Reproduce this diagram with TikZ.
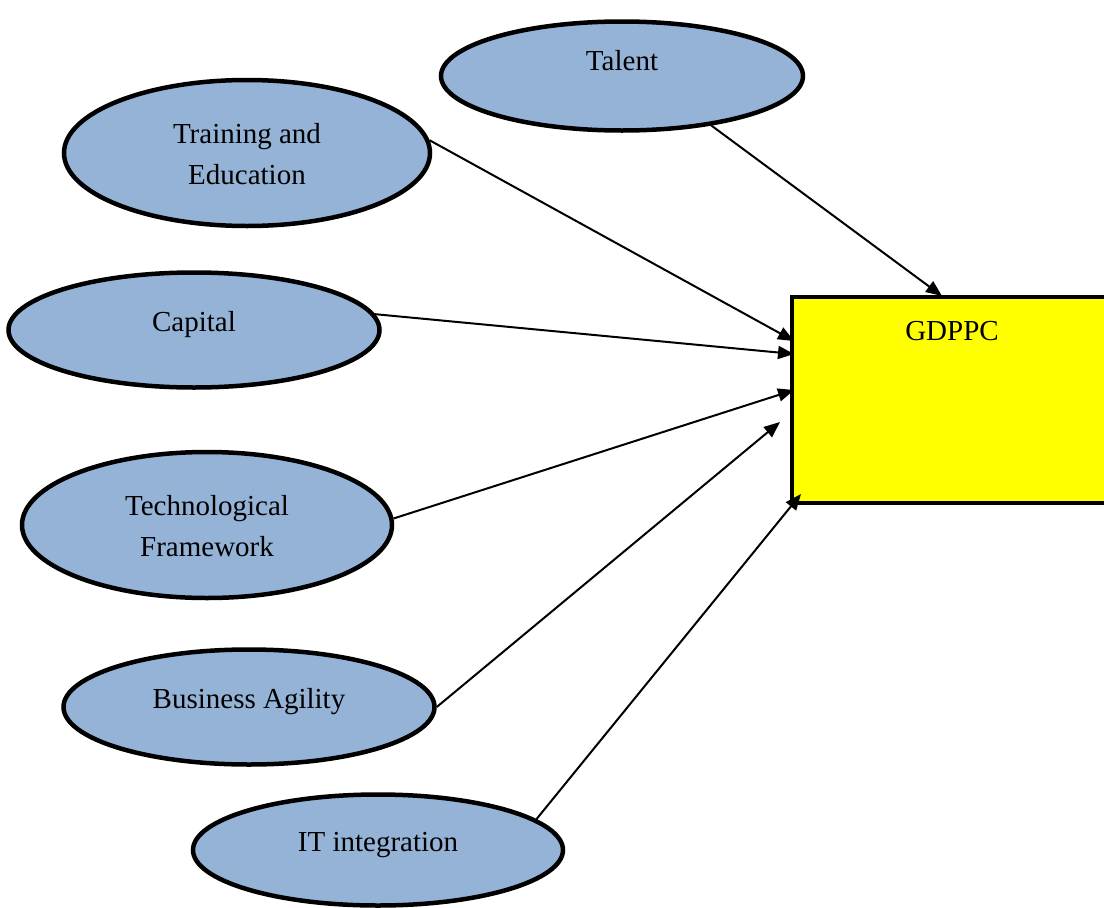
\documentclass[tikz,border=0pt]{standalone}
\usepackage{fontspec}
\setmainfont{Liberation Serif}
\usetikzlibrary{shapes.geometric,arrows.meta}
\definecolor{ovalblue}{HTML}{95B3D7}
\definecolor{boxyellow}{RGB}{255,255,0}
\begin{document}
\begin{tikzpicture}[x=1pt,y=-1pt,
  oval/.style={ellipse,draw=black,line width=4.5pt,fill=ovalblue,inner sep=0pt},
  txt/.style={font=\fontsize{29}{41}\selectfont,align=center,inner sep=0pt},
  target/.style={rectangle,draw=black,line width=4.5pt,fill=boxyellow,inner sep=0pt,
    minimum width=320pt,minimum height=206pt},
  link/.style={line width=2pt,-{Triangle[length=16pt,width=13pt]}}]
\useasboundingbox (0,0) rectangle (1104,908);

% factor ellipses
\node[oval,minimum width=362pt,minimum height=109pt] (talent) at (622,76) {};
\node[oval,minimum width=366pt,minimum height=146pt] (train)  at (247,153) {};
\node[oval,minimum width=371pt,minimum height=115pt] (capital) at (194,330) {};
\node[oval,minimum width=370pt,minimum height=146pt] (tech)   at (207,525) {};
\node[oval,minimum width=371pt,minimum height=115pt] (agile)  at (249,707) {};
\node[oval,minimum width=370pt,minimum height=111pt] (itint)  at (378,850) {};

% their labels
\node[txt] (talentT)  at (622,61)  {Talent};
\node[txt] (trainT)   at (247,154) {Training and\\Education};
\node[txt] (capitalT) at (194,325) {Capital};
\node[txt] (techT)    at (207,526) {Technological\\Framework};
\node[txt] (agileT)   at (249,702) {Business Agility};
\node[txt] (itintT)   at (378,845) {IT integration};

% outcome box, running off the right edge
\node[target] (gdp) at (952,400) {};
\node[txt] (gdpT) at (952,331) {GDPPC};

% arrow ends on the box
\coordinate (inTalent)  at (942,296);
\coordinate (inTrain)   at (794,341);
\coordinate (inCapital) at (794,354);
\coordinate (inTech)    at (794,390);
\coordinate (inAgile)   at (780,422);
\coordinate (inIT)      at (801,494);

\draw[link] (talent.-29) -- (inTalent);
\draw[link] (train.4)    -- (inTrain);
\draw[link] (capital.5)  -- (inCapital);
\draw[link] (tech.2)     -- (inTech);
\draw[link] (agile.0)    -- (inAgile);
\draw[link] (itint.11)   -- (inIT);
\end{tikzpicture}
\end{document}
